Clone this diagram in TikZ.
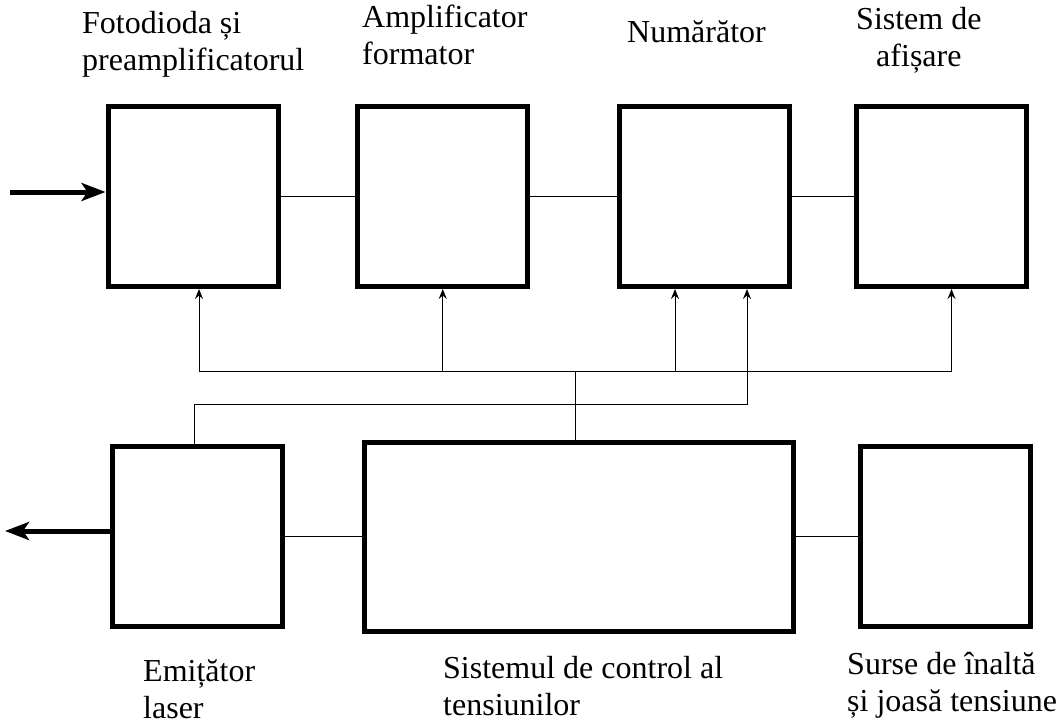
\documentclass[tikz,border=0pt]{standalone}
\usepackage{fontspec}
\setmainfont{Liberation Serif}
\usetikzlibrary{arrows.meta,calc}

\tikzset{
  block/.style={draw, line width=5pt, minimum width=170pt, minimum height=180pt, inner sep=0pt},
  wire/.style={line width=1pt},
  ctrl/.style={line width=1pt, -{Stealth[length=10pt,width=8pt,inset=3.5pt]}},
  signal/.style={line width=5pt, -{Stealth[length=24pt,width=18pt,inset=6pt]}},
  lbl/.style={anchor=base west, inner sep=0pt, font=\fontsize{32}{37}\selectfont, align=left},
}

\begin{document}
\begin{tikzpicture}[x=1pt,y=-1pt]
    \useasboundingbox (0,0) rectangle (1060,723);

    % Top row of blocks
    \node[block] (foto) at (193,196.5) {};
    \node[block] (ampl) at (442.75,196.5) {};
    \node[block] (num) at (704,196.5) {};
    \node[block] (afis) at (941.5,196.5) {};

    % Bottom row of blocks
    \node[block] (laser) at (197.5,536) {};
    \node[block, minimum width=429pt, minimum height=189pt] (ctrlsys) at (578.5,537) {};
    \node[block] (surse) at (945.5,536) {};

    % Block names (anchored on the last line)
    \node[lbl] (tfoto) at (82,70) {Fotodioda și\\preamplificatorul};
    \node[lbl] (tampl) at (362,64) {Amplificator\\formator};
    \node[lbl] (tnum) at (627,42) {Numărător};
    \node[lbl, align=center] (tafis) at (856,66) {Sistem de\\afișare};
    \node[lbl] (tlaser) at (143,718) {Emițător\\laser};
    \node[lbl] (tctrl) at (443,715) {Sistemul de control al\\tensiunilor};
    \node[lbl] (tsurse) at (847,711) {Surse de înaltă\\și joasă tensiune};

    % Signal chain
    \draw[wire] (foto) -- (ampl);
    \draw[wire] (ampl) -- (num);
    \draw[wire] (num) -- (afis);
    \draw[wire] (laser.east) -- (laser.east -| ctrlsys.west);
    \draw[wire] (surse.west) -- (surse.west -| ctrlsys.east);

    % Light in and out
    \coordinate (src) at (10,192);
    \draw[signal] (src) -- (src -| foto.west);
    \coordinate (beam) at (5,531);
    \draw[signal] (beam -| laser.west) -- (beam);

    % Control lines
    \coordinate (hub) at (575,371);
    \coordinate (bus2) at (0,404);
    \coordinate (n1) at ([xshift=-29pt]num.south);
    \coordinate (n2) at ([xshift=43pt]num.south);
    \draw[wire] (hub |- ctrlsys.north) -- (hub);
    \draw[ctrl] (hub) -| ([xshift=6pt]foto.south);
    \draw[ctrl] (hub -| ampl.south) -- (ampl.south);
    \draw[ctrl] (hub -| n1) -- (n1);
    \draw[ctrl] (hub) -| ([xshift=10pt]afis.south);
    \draw[ctrl] ([xshift=-3pt]laser.north) |- (bus2 -| n2) -- (n2);
\end{tikzpicture}
\end{document}
